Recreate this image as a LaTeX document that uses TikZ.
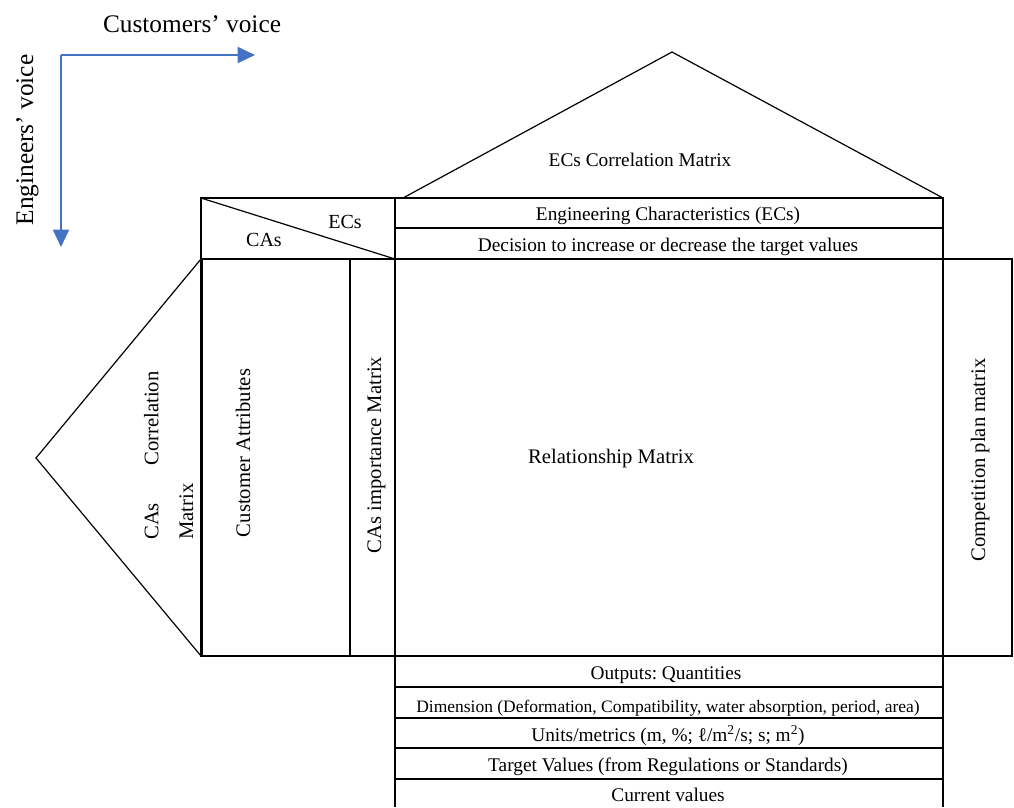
\documentclass[tikz,border=0pt]{standalone}
\usepackage{fontspec}
\setmainfont{Liberation Serif}
\frenchspacing
\usetikzlibrary{arrows.meta}
\definecolor{vblue}{RGB}{68, 114, 196}
\tikzset{part/.style = {line width=0.9pt},
         heavy/.style = {line width=2.2pt},
         voice/.style = {draw=vblue, line width=1.4pt,
                         -{Triangle[length=13pt, width=12pt]}},
         voicetxt/.style = {anchor=base, inner sep=0pt,
                            font=\fontsize{19}{21}\selectfont},
         rowtxt/.style = {anchor=base, inner sep=0pt,
                          font=\fontsize{14.5}{16}\selectfont},
         sidetxt/.style = {anchor=base, inner sep=0pt, rotate=90,
                           font=\fontsize{15.5}{26}\selectfont}}

\begin{document}
\begin{tikzpicture}[x=0.75pt, y=-0.75pt]
    \useasboundingbox (0, 0) rectangle (1014, 807);

    % voices
    \coordinate (origin) at (61, 55);
    \coordinate (ctip) at (255, 55);
    \coordinate (etip) at (61, 247);
    \draw [voice] (origin) -- (ctip);
    \draw [voice] (origin) -- (etip);
    \node [voicetxt] (cvoice) at (192, 32) {Customers’ voice};
    \node [voicetxt, rotate=90] (evoice) at (33, 140) {Engineers’ voice};

    % roof and top rows
    \draw [part] (403, 198) -- (672, 52) -- (943, 198);
    \draw [part] (201, 198) rectangle (943, 259);
    \draw [part] (395, 228) -- (943, 228);
    \draw [part] (201, 198) -- (395, 259);
    \draw [heavy] (403, 198) -- (943, 198);

    % house body
    \draw [part] (201, 259) rectangle (1012, 656);
    \draw [part] (350, 259) -- (350, 656);
    \draw [part] (395, 198) -- (395, 807);
    \draw [part] (943, 198) -- (943, 807);
    \draw [part] (201, 259) -- (36, 458) -- (201, 656);
    \draw [heavy] (202, 259) -- (202, 656);
    \foreach \y in {687, 718, 748, 779}
        \draw [part] (395, \y) -- (943, \y);

    \node [rowtxt] (ecmat) at (640, 166) {ECs Correlation Matrix};
    \node [rowtxt] (ecs) at (668, 220) {Engineering Characteristics (ECs)};
    \node [rowtxt] (decision) at (668, 251) {Decision to increase or decrease the target values};
    \node [rowtxt, font=\fontsize{15}{17}\selectfont] (ecslbl) at (345, 228) {ECs};
    \node [rowtxt, font=\fontsize{15}{17}\selectfont] (caslbl) at (264, 246) {CAs};

    \node [sidetxt, anchor=base west, align=left] (camat) at (193, 540)
        {CAs\hspace{28pt}Correlation\\Matrix};
    \node [sidetxt] (attrib) at (250, 453) {Customer Attributes};
    \node [sidetxt] (import) at (381, 455) {CAs importance Matrix};
    \node [sidetxt] (compet) at (985, 460) {Competition plan matrix};
    \node [rowtxt, font=\fontsize{15.5}{17}\selectfont] (relat) at (611, 463) {Relationship Matrix};

    \node [rowtxt] (outputs) at (666, 679) {Outputs: Quantities};
    \node [rowtxt, font=\fontsize{13.1}{15}\selectfont] (dimen) at (668, 712)
        {Dimension (Deformation, Compatibility, water absorption, period, area)};
    \node [rowtxt] (units) at (668, 741)
        {Units/metrics (m, \%; ℓ/m\textsuperscript{2}/s; s; m\textsuperscript{2})};
    \node [rowtxt] (target) at (668, 771) {Target Values (from Regulations or Standards)};
    \node [rowtxt] (current) at (668, 801) {Current values};
\end{tikzpicture}
\end{document}
